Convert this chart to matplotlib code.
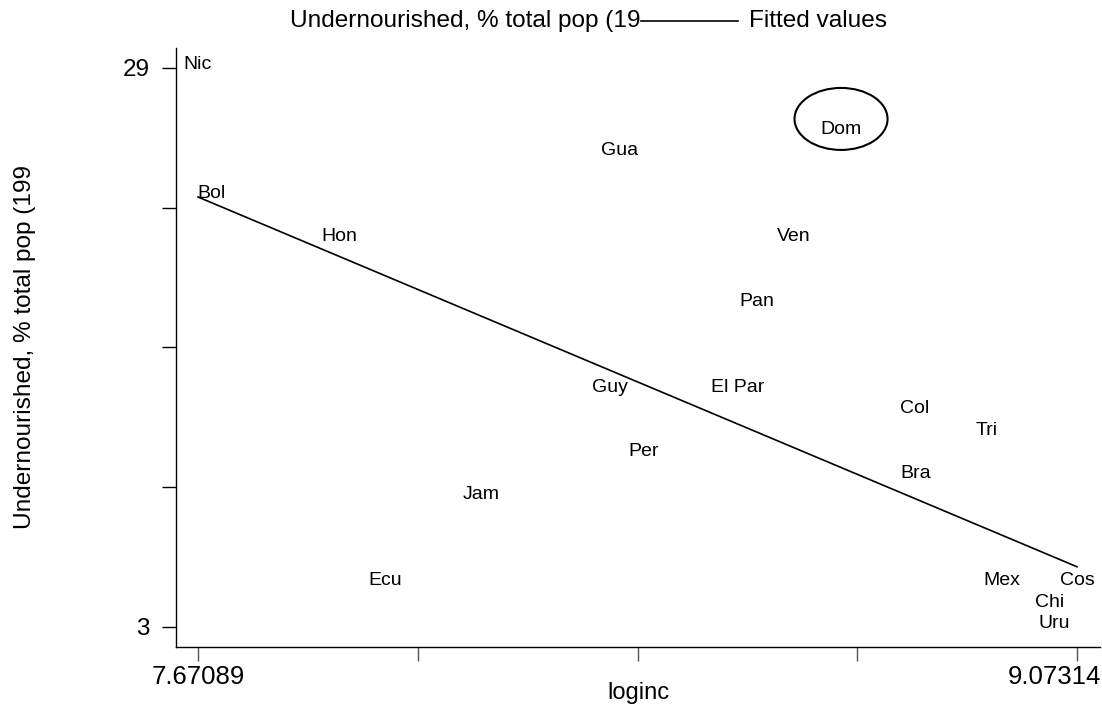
import numpy as np
import matplotlib.pyplot as plt
from matplotlib.patches import Ellipse
from matplotlib.lines import Line2D
from matplotlib.transforms import ScaledTranslation

plt.rcParams['font.family'] = ['Liberation Sans', 'DejaVu Sans']

# country labels, log income and % undernourished
countries = ['Nic', 'Bol', 'Hon', 'Gua', 'Dom', 'Ven', 'Pan', 'Guy', 'El Par',
             'Col', 'Tri', 'Per', 'Bra', 'Jam', 'Ecu', 'Mex', 'Cos', 'Chi', 'Uru']
loginc = [7.67089, 7.6924, 7.8966, 8.3433, 8.6959, 8.6209, 8.5627, 8.3274, 8.5316,
          8.8139, 8.9296, 8.3816, 8.8155, 8.1224, 7.9700, 8.9535, 9.07314, 9.0301, 9.0365]
undernour = [29, 23, 21, 25, 26, 21, 18, 14, 14, 13, 12, 11, 10, 9, 5, 5, 5, 4, 3]

# fitted values at the ends of the x range
fit_x = [7.67089, 9.07314]
fit_y = [23.0, 5.8]

xticks = [7.67089, 8.0214525, 8.372015, 8.7225775, 9.07314]
xticklabels = ['7.67089', '', '', '', '9.07314']
yticks = [3, 9.5, 16, 22.5, 29]
yticklabels = ['3', '', '', '', '29']

fig = plt.figure(figsize=(11.02, 7.13), dpi=100)
ax = fig.add_axes([0.1597, 0.0926, 0.8385, 0.8401])

for name, xi, yi in zip(countries, loginc, undernour):
    ax.annotate(name, (xi, yi), xytext=(0, 2.5), textcoords='offset points',
                ha='center', va='center', fontsize=14)

ax.plot(fit_x, fit_y, color='black', lw=1.2)

ax.add_patch(Ellipse((8.6967, 26.63), 0.1484, 2.884, fill=False,
                     edgecolor='black', lw=1.5))

ax.set_xlim(7.63579, 9.10983)
ax.set_ylim(2.0698, 29.93)
ax.set_xticks(xticks)
ax.set_xticklabels(xticklabels, fontsize=18.5)
ax.set_yticks(yticks)
ax.set_yticklabels(yticklabels, fontsize=17.5)
ax.tick_params(axis='y', direction='out', length=10, width=1, pad=9)
ax.tick_params(axis='x', direction='out', length=10, width=1, pad=3, color='#555555')
# last x label pushed left so it stays inside the figure
lab = ax.get_xticklabels()[-1]
lab.set_ha('right')
lab.set_transform(lab.get_transform() + ScaledTranslation(0.24, 0, fig.dpi_scale_trans))

ax.spines['top'].set_visible(False)
ax.spines['right'].set_visible(False)
ax.spines['left'].set_linewidth(1)
ax.spines['bottom'].set_linewidth(1)

ax.set_xlabel('loginc', fontsize=17)
ax.xaxis.set_label_coords(0.5, -0.058)
ax.set_ylabel('Undernourished, % total pop (199', fontsize=17.6)
ax.yaxis.set_label_coords(-0.1515, 0.5)

# legend across the top
fig.text(641 / 1102, 1 - 21 / 713, 'Undernourished, % total pop (19', ha='right',
         va='center', fontsize=17.6)
fig.add_artist(Line2D([641 / 1102, 738 / 1102], [1 - 21 / 713, 1 - 21 / 713],
                      color='black', lw=1.2))
fig.text(749 / 1102, 1 - 21 / 713, 'Fitted values', ha='left', va='center', fontsize=17.6)

fig.savefig('out.png', dpi=100)
